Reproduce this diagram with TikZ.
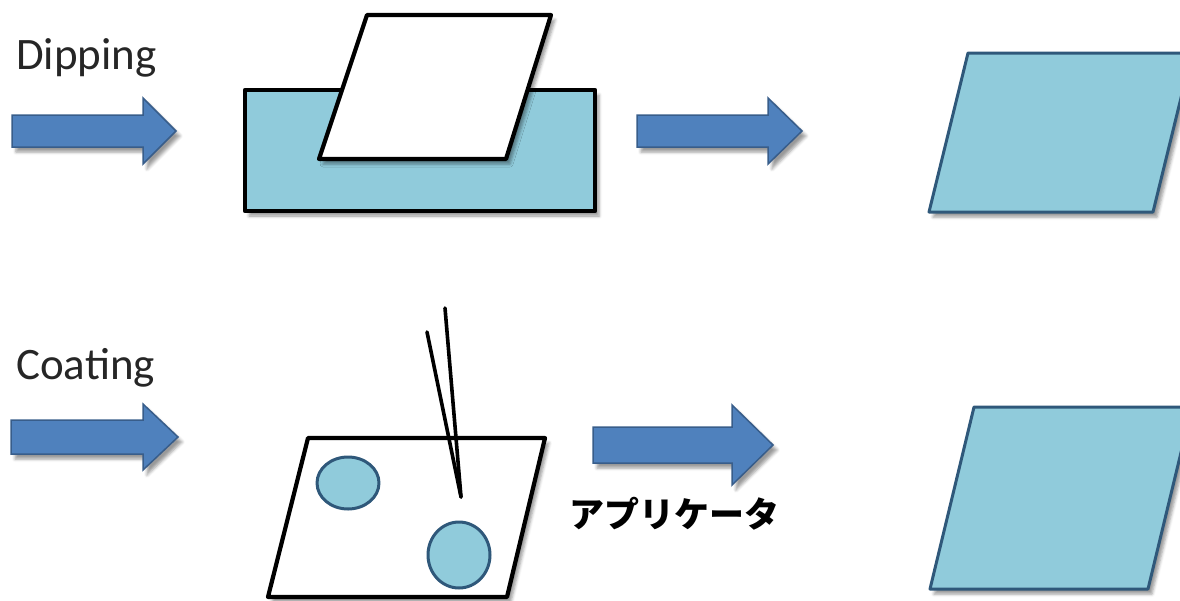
\documentclass[tikz,border=0pt]{standalone}
\usepackage{fontspec}
\setmainfont{Carlito}
\newfontfamily\jpfont{Noto Sans CJK JP}
\usetikzlibrary{shadows.blur}
\definecolor{aqua}{RGB}{144,203,219}
\definecolor{aquaedge}{RGB}{47,88,122}
\definecolor{arrowblue}{RGB}{79,129,189}
\definecolor{arrowedge}{RGB}{56,93,138}
\definecolor{textgray}{RGB}{38,38,38}
\tikzset{
  softshadow/.style={blur shadow={shadow xshift=4pt,shadow yshift=-5pt,shadow opacity=40,shadow blur radius=3pt}},
  blkarrow/.style={fill=arrowblue,draw=arrowedge,line width=1.5pt,line join=miter,softshadow},
  bath/.style={fill=aqua,draw=black,line width=4.2pt,line join=round,softshadow},
  sheet/.style={fill=white,draw=black,line width=4.2pt,line join=round,softshadow},
  film/.style={fill=aqua,draw=aquaedge,line width=3pt,line join=round,softshadow},
  drop/.style={fill=aqua,draw=aquaedge,line width=3pt},
  stick/.style={draw=black,line width=3.6pt,line cap=round},
  steptext/.style={inner sep=0pt,text=textgray,font=\fontsize{45}{45}\selectfont},
}
\begin{document}
\begin{tikzpicture}[x=1pt,y=-1pt,line join=round]
	\useasboundingbox (0,0) rectangle (1180,600);
	\clip (0,0) rectangle (1180,600);
	% block arrow: start x, head x, tip x, centre y, shaft half, head half
	\def\blkarrow#1#2#3#4#5#6{%
		\draw[blkarrow] (#1,#4-#5)--(#2,#4-#5)--(#2,#4-#6)--(#3,#4)
		--(#2,#4+#6)--(#2,#4+#5)--(#1,#4+#5)--cycle;}
	% dipping
	\node[steptext,anchor=base west] (dip) at (16,69) {Dipping};
	\blkarrow{12}{143}{176}{131}{16}{33}
	\draw[bath] (245,90) rectangle (595,211);
	\draw[sheet] (367,15)--(551,15)--(506,159)--(319,159)--cycle;
	\blkarrow{637}{768}{802}{131}{16}{33}
	\draw[film] (968,53)--(1192,53)--(1153,212)--(929,212)--cycle;
	% coating
	\node[steptext,anchor=base west] (coat) at (16,379) {Coating};
	\blkarrow{11}{143}{178}{437}{17}{33}
	\draw[sheet] (308,438)--(545,438)--(507,597)--(268,597)--cycle;
	\draw[drop] (348,483) ellipse (31 and 26);
	\draw[drop] (459,555) ellipse (31 and 33);
	\coordinate (tip) at (461,497);
	\draw[stick] (445,308)--(tip);
	\draw[stick] (427,332)--(tip);
	\blkarrow{593}{732}{773}{445}{18}{40}
	\node[inner sep=0pt,font=\jpfont\bfseries\fontsize{35}{35}\selectfont] (appl) at (674,514) {アプリケータ};
	\draw[film] (974,407)--(1192,407)--(1148,589)--(930,589)--cycle;
\end{tikzpicture}
\end{document}
